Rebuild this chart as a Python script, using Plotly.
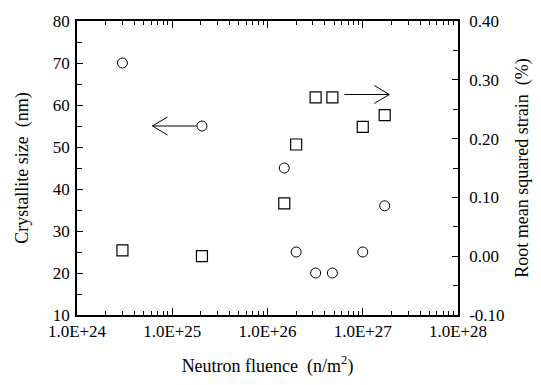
import plotly.graph_objects as go

# ---- data ----
fluence = [3.0e24, 2.05e25, 1.5e26, 2.0e26, 3.2e26, 4.8e26, 1.0e27, 1.7e27]
crystallite_size = [70, 55, 45, 25, 20, 20, 25, 36]
fluence_strain = [3.0e24, 2.05e25, 1.5e26, 2.0e26, 3.2e26, 4.8e26, 1.0e27, 1.7e27]
rms_strain = [0.01, 0.00, 0.09, 0.19, 0.27, 0.27, 0.22, 0.24]

x_tickvals = [1e24, 1e25, 1e26, 1e27, 1e28]
x_ticktext = ["1.0E+24", "1.0E+25", "1.0E+26", "1.0E+27", "1.0E+28"]
x_minor_tickvals = [float(m) * 10.0 ** e for e in range(24, 28) for m in range(2, 10)]
y_tickvals = [10, 20, 30, 40, 50, 60, 70, 80]
y_minor_tickvals = [15, 25, 35, 45, 55, 65, 75]
y2_tickvals = [-0.10, 0.00, 0.10, 0.20, 0.30, 0.40]
y2_ticktext = ["-0.10", "0.00", "0.10", "0.20", "0.30", "0.40"]
y2_minor_tickvals = [-0.05, 0.05, 0.15, 0.25, 0.35]

# arrow heads (data values): left arrow points to left axis, right arrow to right axis
left_arrow_head = (6.2e24, 55)
right_arrow_head = (1.9e27, 0.275)

FONT = "Liberation Serif"

fig = go.Figure()
fig.add_trace(go.Scatter(
    x=fluence, y=crystallite_size, mode="markers",
    marker=dict(symbol="circle-open", size=10, color="black", line=dict(width=1)),
    showlegend=False,
))
fig.add_trace(go.Scatter(
    x=fluence_strain, y=rms_strain, mode="markers", yaxis="y2",
    marker=dict(symbol="square-open", size=11, color="black", line=dict(width=1.2)),
    showlegend=False,
))

# arrows drawn as pixel-sized paths anchored at data points
fig.add_shape(type="path", xref="x", yref="y", xsizemode="pixel", ysizemode="pixel",
              xanchor=left_arrow_head[0], yanchor=left_arrow_head[1],
              path="M 0,0 L 44,0 M 0,0 L 15,9 M 0,0 L 15,-9",
              line=dict(color="black", width=1))
fig.add_shape(type="path", xref="x", yref="y2", xsizemode="pixel", ysizemode="pixel",
              xanchor=right_arrow_head[0], yanchor=right_arrow_head[1],
              path="M 0,0 L -45,0 M 0,0 L -15,9 M 0,0 L -15,-9",
              line=dict(color="black", width=1))

minor_common = dict(ticks="inside", tickcolor="black", showgrid=False)
tick_font = dict(family=FONT, size=17, color="black")
title_font = dict(family=FONT, size=18, color="black")

fig.update_layout(
    width=541, height=385,
    margin=dict(l=77, r=81, t=17, b=68),
    paper_bgcolor="white", plot_bgcolor="white",
    xaxis=dict(
        type="log", range=[24, 28],
        tickmode="array", tickvals=x_tickvals, ticktext=x_ticktext,
        ticks="inside", ticklen=7, tickcolor="black",
        showline=True, linecolor="black", linewidth=1.5, mirror="ticks",
        showgrid=False, zeroline=False,
        minor=dict(tickmode="array", tickvals=x_minor_tickvals, ticklen=4, **minor_common),
        title=dict(text="Neutron fluence\u00a0\u00a0(n/m<sup>2</sup>)", font=title_font, standoff=19),
        tickfont=tick_font,
    ),
    yaxis=dict(
        range=[10, 80], tickmode="array", tickvals=y_tickvals,
        ticks="inside", ticklen=6, tickcolor="black",
        showline=True, linecolor="black", linewidth=1.5, mirror=False,
        showgrid=False, zeroline=False, ticklabelstandoff=2,
        minor=dict(tickmode="array", tickvals=y_minor_tickvals, ticklen=5, **minor_common),
        title=dict(text="Crystallite size\u00a0\u00a0(nm)", font=title_font, standoff=20),
        tickfont=tick_font,
    ),
    yaxis2=dict(
        overlaying="y", side="right", range=[-0.10, 0.40],
        tickmode="array", tickvals=y2_tickvals, ticktext=y2_ticktext,
        ticks="inside", ticklen=6, tickcolor="black",
        showline=True, linecolor="black", linewidth=1.5,
        showgrid=False, zeroline=False, ticklabelstandoff=6,
        minor=dict(tickmode="array", tickvals=y2_minor_tickvals, ticklen=5, **minor_common),
        title=dict(text="Root mean squared strain\u00a0\u00a0(%)", font=title_font, standoff=12),
        tickfont=tick_font,
    ),
)

fig.write_html("out.html")
